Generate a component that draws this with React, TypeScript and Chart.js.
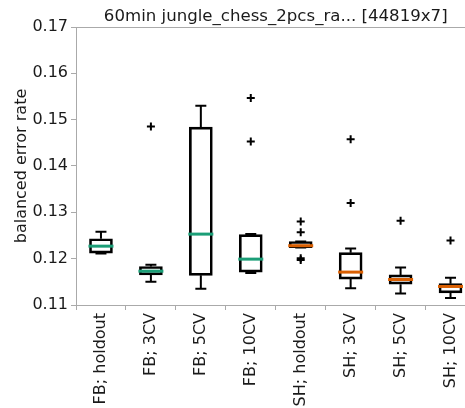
import React, { useEffect, useRef } from "react";
import { Chart, registerables } from "chart.js";

Chart.register(...registerables);

const categories = ["FB; holdout", "FB; 3CV", "FB; 5CV", "FB; 10CV", "SH; holdout", "SH; 3CV", "SH; 5CV", "SH; 10CV"];
const whiskerLow = [0.1211, 0.1150, 0.1135, 0.1169, 0.1224, 0.1136, 0.1125, 0.1115];
const q1 = [0.1212, 0.1165, 0.1164, 0.1171, 0.1224, 0.1156, 0.1145, 0.1126];
const median = [0.1227, 0.1173, 0.1253, 0.1199, 0.1228, 0.1171, 0.1155, 0.1140];
const q3 = [0.1243, 0.1183, 0.1484, 0.1252, 0.1237, 0.1213, 0.1165, 0.1146];
const whiskerHigh = [0.1258, 0.1187, 0.1530, 0.1253, 0.1237, 0.1222, 0.1181, 0.1159];
const outliers: number[][] = [
  [],
  [0.1485],
  [],
  [0.1547, 0.1453],
  [0.1280, 0.1257, 0.1201, 0.1197],
  [0.1458, 0.1320],
  [0.1282],
  [0.1239],
];
const medianColors = ["#1b9e77", "#1b9e77", "#1b9e77", "#1b9e77", "#d95f02", "#d95f02", "#d95f02", "#d95f02"];
const yTicks = [0.11, 0.12, 0.13, 0.14, 0.15, 0.16, 0.17];
const titleText = "60min jungle_chess_2pcs_ra... [44819x7]";
const yLabel = "balanced error rate";

const FONT = "'DejaVu Sans', sans-serif";

export default function App() {
  const ref = useRef<HTMLCanvasElement | null>(null);

  useEffect(() => {
    if (!ref.current) return;
    const boxPlugin = {
      id: "boxDecor",
      afterDatasetsDraw(chart: any) {
        const ctx = chart.ctx;
        const xs = chart.scales.x;
        const ys = chart.scales.y;
        const area = chart.chartArea;
        ctx.save();
        // top spine
        ctx.strokeStyle = "#aaaaaa";
        ctx.lineWidth = 1;
        ctx.beginPath();
        ctx.moveTo(area.left, area.top + 0.5);
        ctx.lineTo(area.right, area.top + 0.5);
        ctx.stroke();
        for (let i = 0; i < categories.length; i++) {
          const x = xs.getPixelForValue(i + 1);
          ctx.strokeStyle = "#000";
          ctx.lineWidth = 2;
          ctx.beginPath();
          ctx.moveTo(x, ys.getPixelForValue(q3[i]));
          ctx.lineTo(x, ys.getPixelForValue(whiskerHigh[i]));
          ctx.moveTo(x, ys.getPixelForValue(q1[i]));
          ctx.lineTo(x, ys.getPixelForValue(whiskerLow[i]));
          ctx.moveTo(x - 5.5, ys.getPixelForValue(whiskerHigh[i]));
          ctx.lineTo(x + 5.5, ys.getPixelForValue(whiskerHigh[i]));
          ctx.moveTo(x - 5.5, ys.getPixelForValue(whiskerLow[i]));
          ctx.lineTo(x + 5.5, ys.getPixelForValue(whiskerLow[i]));
          ctx.stroke();
          ctx.strokeStyle = medianColors[i];
          ctx.lineWidth = 3;
          ctx.beginPath();
          ctx.moveTo(x - 12.5, ys.getPixelForValue(median[i]));
          ctx.lineTo(x + 12.5, ys.getPixelForValue(median[i]));
          ctx.stroke();
        }
        // title
        ctx.fillStyle = "#1a1a1a";
        ctx.font = `16.6px ${FONT}`;
        ctx.textAlign = "center";
        ctx.textBaseline = "alphabetic";
        ctx.fillText(titleText, xs.getPixelForValue(4.5), 21);
        // y label
        ctx.font = `16px ${FONT}`;
        ctx.translate(22, (area.top + area.bottom) / 2);
        ctx.rotate(-Math.PI / 2);
        ctx.textBaseline = "middle";
        ctx.fillText(yLabel, 0, 0);
        ctx.restore();
      },
    };

    const outlierPts: { x: number; y: number }[] = [];
    outliers.forEach((arr, i) => arr.forEach((v) => outlierPts.push({ x: i + 1, y: v })));

    const chart = new Chart(ref.current, {
      type: "bar",
      data: {
        datasets: [
          {
            type: "bar",
            data: categories.map((_, i) => ({ x: i + 1, y: [q1[i], q3[i]] })) as any,
            backgroundColor: "rgba(255,255,255,0)",
            borderColor: "#000",
            borderWidth: 2,
            borderSkipped: false,
            barThickness: 23,
            grouped: false,
          } as any,
          {
            type: "scatter",
            data: outlierPts,
            pointStyle: "cross",
            radius: 4,
            borderColor: "#000",
            borderWidth: 2,
            backgroundColor: "#000",
          } as any,
        ],
      },
      options: {
        responsive: false,
        animation: false,
        devicePixelRatio: 1,
        layout: { autoPadding: false, padding: { top: 27, left: 0, right: 0, bottom: 0 } },
        plugins: { legend: { display: false }, tooltip: { enabled: false }, title: { display: false } },
        scales: {
          x: {
            type: "linear",
            min: 0.5,
            max: 8.29,
            offset: false,
            afterFit: (s: any) => { s.height = 103; s.paddingLeft = 0; s.paddingRight = 0; },
            afterBuildTicks: (s: any) => { s.ticks = categories.map((_, i) => ({ value: i + 1 })); },
            ticks: {
              autoSkip: false,
              maxRotation: 90,
              minRotation: 90,
              padding: 3,
              color: "#1a1a1a",
              font: { family: FONT, size: 16 },
              callback: (v: any) => categories[Number(v) - 1] ?? "",
            },
            grid: { drawOnChartArea: false, drawTicks: true, tickLength: 5, color: "#aaaaaa" },
            border: { display: true, color: "#aaaaaa", width: 1 },
          },
          y: {
            type: "linear",
            min: 0.11,
            max: 0.17,
            afterFit: (s: any) => { s.width = 76; s.paddingTop = 0; s.paddingBottom = 0; },
            afterBuildTicks: (s: any) => { s.ticks = yTicks.map((v) => ({ value: v })); },
            ticks: {
              padding: 3,
              color: "#1a1a1a",
              font: { family: FONT, size: 16 },
              callback: (v: any) => Number(v).toFixed(2),
            },
            grid: { drawOnChartArea: false, drawTicks: true, tickLength: 5, color: "#aaaaaa" },
            border: { display: true, color: "#aaaaaa", width: 1 },
          },
        },
      },
      plugins: [boxPlugin],
    });
    return () => chart.destroy();
  }, []);

  return (
    <div style={{ position: "fixed", left: 0, top: 0, width: 465, height: 408, background: "#fff" }}>
      <canvas ref={ref} width={465} height={408} style={{ width: 465, height: 408 }} />
    </div>
  );
}
